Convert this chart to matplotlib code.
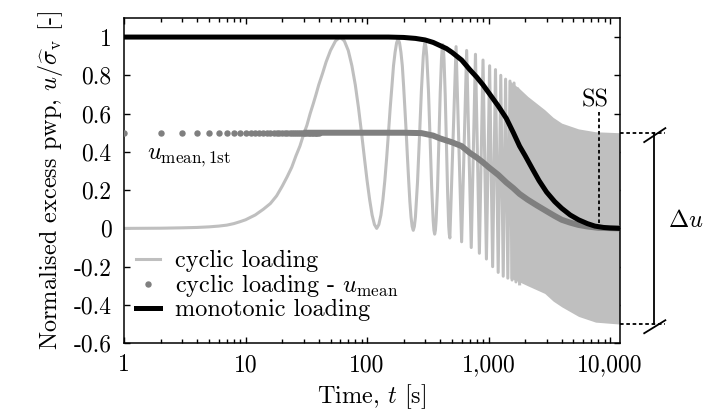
import matplotlib
matplotlib.use("Agg")
import matplotlib.pyplot as plt
from matplotlib.ticker import FixedLocator, FixedFormatter, NullFormatter

plt.rcParams['font.family'] = ['cmr10', 'DejaVu Serif']
plt.rcParams['mathtext.fontset'] = 'cm'
plt.rcParams['axes.formatter.use_mathtext'] = True
plt.rcParams['font.size'] = 17.5

# cyclic loading (first cycles point by point, then peaks/troughs)
cyc_t = [1, 2, 3, 4, 5, 6, 7, 8, 9, 10, 12, 14, 16, 18, 20, 22, 24, 26, 28, 30,
         32, 34, 36, 38, 40, 43, 46, 50, 55, 60,
         65, 70, 75, 80, 85, 90, 95, 100, 105, 110, 115, 120,
         125, 130, 135, 140, 145, 150, 155, 160, 165, 170, 175, 180,
         185, 190, 195, 200, 205, 210, 215, 220, 225, 230, 235, 240,
         245, 250, 260, 270, 280, 290, 295, 300,
         305, 310, 320, 330, 340, 350, 355, 360,
         365, 370, 380, 390, 400, 410, 415, 420,
         425, 430, 440, 450, 460, 470, 475, 480,
         540, 600, 660, 720, 780, 840, 900, 960, 1020, 1080, 1140, 1200,
         1260, 1320, 1380, 1440, 1500, 1560, 1620, 1680, 1740, 1800]
cyc_u = [0.0, 0.001, 0.003, 0.005, 0.008, 0.012, 0.017, 0.025, 0.035, 0.045, 0.07,
         0.1, 0.13, 0.17, 0.22, 0.27, 0.32, 0.38, 0.43, 0.49,
         0.54, 0.6, 0.65, 0.7, 0.75, 0.81, 0.87, 0.93, 0.98, 1.0,
         0.98, 0.93, 0.85, 0.75, 0.63, 0.5, 0.37, 0.25, 0.15, 0.07, 0.02, 0.0,
         0.02, 0.07, 0.15, 0.25, 0.37, 0.5, 0.63, 0.74, 0.85, 0.92, 0.97, 0.99,
         0.97, 0.92, 0.85, 0.74, 0.62, 0.5, 0.37, 0.25, 0.14, 0.06, 0.01, -0.01,
         0.01, 0.06, 0.24, 0.48, 0.72, 0.9, 0.95, 0.97,
         0.95, 0.9, 0.72, 0.47, 0.22, 0.04, -0.01, -0.03,
         -0.01, 0.04, 0.21, 0.46, 0.71, 0.89, 0.94, 0.96,
         0.94, 0.88, 0.69, 0.44, 0.19, 0.01, -0.03, -0.05,
         0.95, -0.07, 0.93, -0.1, 0.91, -0.13, 0.88, -0.16, 0.85, -0.2, 0.83, -0.23,
         0.8, -0.25, 0.78, -0.26, 0.77, -0.27, 0.76, -0.28, 0.73, -0.29]

# dense part of the cyclic signal: upper / lower envelope
band_t = [1500, 1800, 2100, 2900, 3400, 4000, 5500, 7600, 12000]
band_hi = [0.77, 0.73, 0.69, 0.62, 0.58, 0.55, 0.52, 0.505, 0.50]
band_lo = [-0.26, -0.28, -0.30, -0.34, -0.38, -0.41, -0.46, -0.49, -0.50]

# mean of cyclic loading: single dots at first seconds, then merged line
mean_dot_t = list(range(1, 41))
mean_dot_u = [0.5] * len(mean_dot_t)
mean_t = [30, 200, 280, 350, 400, 500, 600, 700, 800, 900, 1000, 1200, 1400, 1600,
          1800, 2100, 2500, 3000, 3500, 4000, 4700, 5500, 6500, 8000, 12000]
mean_u = [0.5, 0.5, 0.498, 0.485, 0.47, 0.45, 0.43, 0.395, 0.37, 0.345, 0.32, 0.28,
          0.24, 0.21, 0.18, 0.15, 0.12, 0.09, 0.065, 0.045, 0.03, 0.018, 0.01, 0.003, 0.0]

# monotonic loading
mono_t = [1, 150, 200, 250, 300, 350, 400, 450, 500, 600, 700, 800, 900, 1000, 1200,
          1400, 1600, 1800, 2000, 2300, 2600, 3000, 3500, 4000, 4700, 5500, 6500, 7500,
          8800, 10000, 12000]
mono_u = [1.0, 1.0, 0.998, 0.993, 0.985, 0.972, 0.955, 0.94, 0.92, 0.88, 0.83, 0.79,
          0.75, 0.71, 0.64, 0.575, 0.5, 0.43, 0.38, 0.31, 0.25, 0.19, 0.14, 0.105,
          0.07, 0.045, 0.025, 0.012, 0.005, 0.002, 0.0]

xticks = [1, 10, 100, 1000, 10000]
xtick_labels = ['1', '10', '100', '1,000', '10,000']
yticks = [-0.6, -0.4, -0.2, 0, 0.2, 0.4, 0.6, 0.8, 1]
ytick_labels = ['-0.6', '-0.4', '-0.2', '0', '0.2', '0.4', '0.6', '0.8', '1']

light = '#bfbfbf'
mid = '#7f7f7f'

fig = plt.figure(figsize=(7.05, 4.17), dpi=100)
ax = fig.add_axes([0.176, 0.177, 0.703, 0.780])

ax.plot(cyc_t, cyc_u, color=light, lw=2.2, label='cyclic loading', zorder=2)
ax.fill_between(band_t, band_lo, band_hi, color=light, lw=0, zorder=2)
ax.plot(mean_t, mean_u, color=mid, lw=4.3, solid_capstyle='butt', zorder=3)
ax.plot(mean_dot_t, mean_dot_u, ls='none', marker='o', ms=3.6, color=mid,
        label=r'cyclic loading - $u_\mathrm{mean}$', zorder=3)
ax.plot(mono_t, mono_u, color='black', lw=3.6, label='monotonic loading', zorder=4)

ax.set_xscale('log')
ax.set_xlim(1, 12000)
ax.set_ylim(-0.6, 1.1)
ax.xaxis.set_major_locator(FixedLocator(xticks))
ax.xaxis.set_major_formatter(FixedFormatter(xtick_labels))
ax.xaxis.set_minor_formatter(NullFormatter())
ax.yaxis.set_major_locator(FixedLocator(yticks))
ax.yaxis.set_major_formatter(FixedFormatter(ytick_labels))
ax.tick_params(which='both', direction='in', top=True, right=True, width=1, labelsize=17)
ax.tick_params(which='major', length=4.5)
ax.tick_params(which='minor', length=3)
ax.tick_params(axis='y', pad=9)
ax.tick_params(axis='x', pad=8)
for s in ax.spines.values():
    s.set_linewidth(1.1)

ax.set_xlabel(r'Time, $t$ [s]', labelpad=4)
ax.set_ylabel(r'Normalised excess pwp, $u/\widehat{\sigma}_\mathrm{v}$ [-]', labelpad=6)

ax.text(1.55, 0.37, r'$u_\mathrm{mean,1st}$', ha='left', va='center')

# steady state marker
ax.text(7500, 0.67, 'SS', ha='center', va='center', fontsize=17.5)
ax.plot([8100, 8100], [0.61, 0.03], color='black', ls=(0, (2, 1.5)), lw=1.3, zorder=5)

# delta u dimension on the right
for yv in [0.5, -0.5]:
    ax.plot([12000, 28500], [yv, yv], color='black', ls=(0, (2, 1.5)), lw=1.3, clip_on=False)
ax.plot([23000, 23000], [0.5, -0.5], color='black', lw=1.3, clip_on=False)
ax.plot([19100, 28500], [0.451, 0.524], color='black', lw=1.3, clip_on=False)
ax.plot([19100, 28500], [-0.548, -0.48], color='black', lw=1.3, clip_on=False)
ax.text(30000, 0.04, r'$\Delta u$', ha='left', va='center')

ax.legend(loc='lower left', frameon=False, handlelength=1.0, handletextpad=0.6,
          labelspacing=0.0, borderaxespad=0.3, bbox_to_anchor=(-0.01, 0.015),
          fontsize=17.5)

fig.savefig('out.png', dpi=100)
